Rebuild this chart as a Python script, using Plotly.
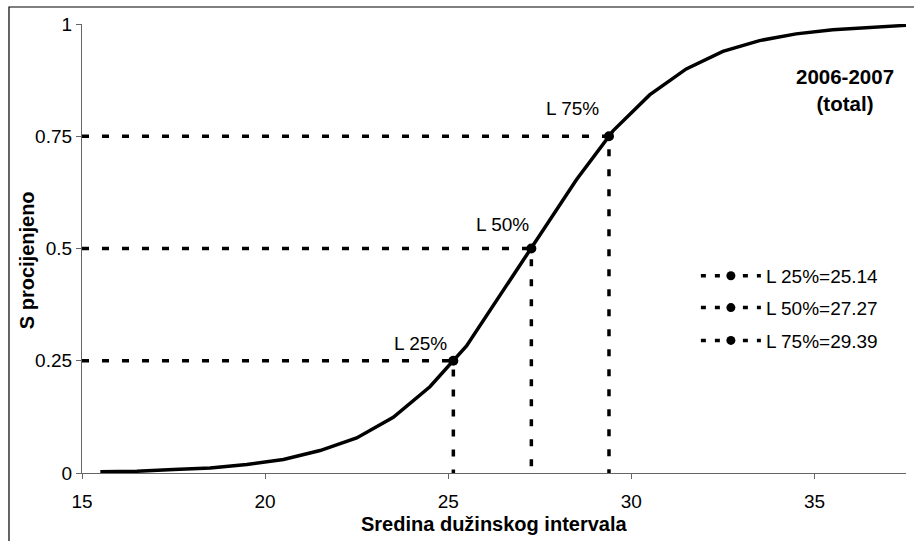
import plotly.graph_objects as go

# length class midpoints and estimated cumulative selection
duzina = [15.5, 16.5, 17.5, 18.5, 19.5, 20.5, 21.5, 22.5, 23.5, 24.5, 25.5, 26.5,
          27.5, 28.5, 29.5, 30.5, 31.5, 32.5, 33.5, 34.5, 35.5, 36.5, 37.5]
s_procjena = [0.003, 0.004, 0.008, 0.011, 0.019, 0.030, 0.050, 0.078, 0.124, 0.192, 0.283, 0.406,
              0.530, 0.653, 0.762, 0.842, 0.900, 0.939, 0.963, 0.978, 0.987, 0.992, 0.997]

# selection lengths
postotci = [25, 50, 75]
razine = [0.25, 0.5, 0.75]
L_vrijednosti = [25.14, 27.27, 29.39]

x_tickovi = [15, 20, 25, 30, 35]
y_tickovi = [0, 0.25, 0.5, 0.75, 1]
y_oznake = ["0", "0.25", "0.5", "0.75", "1"]

FONT = "Liberation Sans, Arial, sans-serif"
DASH = "7px,13px"

fig = go.Figure()

fig.add_trace(go.Scatter(x=duzina, y=s_procjena, mode="lines",
                         line=dict(color="black", width=3.5), showlegend=False))

legende = ["legend", "legend2", "legend3"]
for i, (p, r, L) in enumerate(zip(postotci, razine, L_vrijednosti)):
    # dashed guide: from y axis to the point, then down to x axis
    fig.add_trace(go.Scatter(x=[x_tickovi[0], L, L], y=[r, r, 0], mode="lines",
                             line=dict(color="black", width=3.5, dash=DASH),
                             showlegend=False, cliponaxis=False))
    fig.add_trace(go.Scatter(x=[L], y=[r], mode="markers",
                             marker=dict(color="black", size=10), showlegend=False))
    # legend-only entry
    fig.add_trace(go.Scatter(x=[None], y=[None], mode="lines+markers",
                             name=f"L {p}%={L:.2f}", legend=legende[i],
                             line=dict(color="black", width=3.5, dash="5px,9px"),
                             marker=dict(color="black", size=9)))

# labels next to the points (pixel offsets)
pomaci = [(-33, 17), (-29, 24), (-36, 28)]
for (p, r, L), (dx, dy) in zip(zip(postotci, razine, L_vrijednosti), pomaci):
    fig.add_annotation(x=L, y=r, text=f"L {p}%", showarrow=False,
                       xshift=dx, yshift=dy, font=dict(size=19, color="black"))

fig.add_annotation(x=0.926, y=0.853, xref="paper", yref="paper",
                   xanchor="center", yanchor="middle",
                   text="<b>2006-2007<br>(total)</b>", showarrow=False,
                   font=dict(size=20.5, color="black"))
fig.add_annotation(x=-0.0667, y=0.474, xref="paper", yref="paper",
                   xanchor="center", yanchor="middle",
                   text="<b>S procijenjeno</b>", textangle=-90, showarrow=False,
                   font=dict(size=20, color="black"))
fig.add_annotation(x=0.5, y=-0.1136, xref="paper", yref="paper",
                   xanchor="center", yanchor="middle",
                   text="<b>Sredina dužinskog intervala</b>", showarrow=False,
                   font=dict(size=20, color="black"))

# outer frame
fig.add_shape(type="rect", xref="paper", yref="paper",
              x0=-0.0886, x1=1.03, y0=-0.2, y1=1.0379,
              line=dict(color="black", width=1.2))

leg_common = dict(xanchor="left", yanchor="middle", bgcolor="rgba(0,0,0,0)",
                  font=dict(size=19, color="black"), itemwidth=60)
leg_y = [0.439, 0.368, 0.295]
fig.update_layout(
    width=914, height=541,
    margin=dict(l=82, r=8, t=24, b=68),
    paper_bgcolor="white", plot_bgcolor="white",
    font=dict(family=FONT, size=19, color="black"),
    legend=dict(x=0.745, y=leg_y[0], **leg_common),
    legend2=dict(x=0.745, y=leg_y[1], **leg_common),
    legend3=dict(x=0.745, y=leg_y[2], **leg_common),
    xaxis=dict(range=[15, 37.5], tickvals=x_tickovi, showgrid=False, zeroline=False,
               showline=True, linecolor="#666", linewidth=1.2,
               ticks="outside", ticklen=5, tickcolor="#666", ticklabelstandoff=6,
               tickfont=dict(size=19, color="black")),
    yaxis=dict(range=[0, 1], tickvals=y_tickovi, ticktext=y_oznake, showgrid=False,
               zeroline=False, showline=True, linecolor="#666", linewidth=1.2,
               ticks="outside", ticklen=5, tickcolor="#666",
               tickfont=dict(size=19, color="black")),
)

# page body margin would push the 914x541 figure off by 8px
fig.write_html("out.html", config={"displayModeBar": False},
               post_script="document.body.style.margin='0';")
